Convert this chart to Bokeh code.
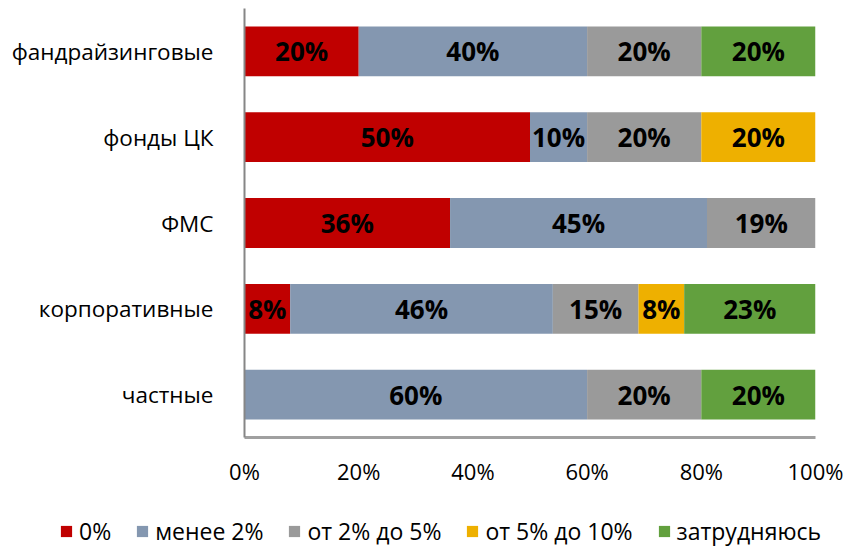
from bokeh.plotting import figure
from bokeh.layouts import column
from bokeh.models import ColumnDataSource, FactorRange, Range1d, FixedTicker, Legend, LegendItem, PrintfTickFormatter
from bokeh.core.properties import value
from bokeh.embed import file_html
from bokeh.resources import INLINE

categories = ["частные", "корпоративные", "ФМС", "фонды ЦК", "фандрайзинговые"]
series_names = ["0%", "менее 2%", "от 2% до 5%", "от 5% до 10%", "затрудняюсь"]
s_zero = [0, 8, 36, 50, 20]
s_lt2 = [60, 46, 45, 10, 40]
s_2_5 = [20, 15, 19, 20, 20]
s_5_10 = [0, 8, 0, 20, 0]
s_hard = [20, 23, 0, 0, 20]
series = [s_zero, s_lt2, s_2_5, s_5_10, s_hard]
colors = ["#C00000", "#8497B0", "#9A9A9A", "#EEB000", "#62A03E"]
x_ticks = [0, 20, 40, 60, 80, 100]

FONT = "Open Sans"

p = figure(y_range=FactorRange(*categories), x_range=Range1d(0, 100),
           width=848, height=500, output_backend="svg", toolbar_location=None,
           min_border_left=244, min_border_right=33, min_border_top=8, min_border_bottom=63)
p.frame_align = False

cum = [0] * len(categories)
lab_x, lab_y, lab_t = [], [], []
for name, vals, col in zip(series_names, series, colors):
    left = list(cum)
    right = [a + b for a, b in zip(cum, vals)]
    src = ColumnDataSource(dict(y=categories, left=left, right=right))
    p.hbar(y="y", left="left", right="right", height=0.58, source=src,
           fill_color=col, line_color=None)
    for c, l, v in zip(categories, left, vals):
        if v > 0:
            lab_x.append(l + v / 2)
            lab_y.append(c)
            lab_t.append(f"{v}%")
    cum = right

lsrc = ColumnDataSource(dict(x=lab_x, y=lab_y, t=lab_t))
p.text(x="x", y="y", text="t", source=lsrc, text_font=value(FONT), text_font_style="bold",
       text_font_size="26px", text_align="center", text_baseline="middle", text_color="black")

p.xaxis.ticker = FixedTicker(ticks=x_ticks)
p.xaxis.formatter = PrintfTickFormatter(format="%d%%")
p.xaxis.major_tick_line_color = None
p.xaxis.minor_tick_line_color = None
p.xaxis.axis_line_color = "#A0A0A0"
p.xaxis.axis_line_width = 3
p.xaxis.major_label_standoff = 12
p.xaxis.major_label_text_font = FONT
p.xaxis.major_label_text_font_size = "22px"
p.xaxis.major_label_text_color = "black"

p.yaxis.major_tick_line_color = None
p.yaxis.minor_tick_line_color = None
p.yaxis.axis_line_color = "#868686"
p.yaxis.axis_line_width = 2
p.yaxis.major_label_standoff = 25
p.yaxis.major_label_text_font = FONT
p.yaxis.major_label_text_font_size = "22.5px"
p.yaxis.major_label_text_color = "black"

p.xgrid.grid_line_color = None
p.ygrid.grid_line_color = None
p.outline_line_color = None

# legend strip
nan = float("nan")
pl = figure(width=848, height=47, x_range=Range1d(0, 1), y_range=Range1d(0, 1),
            output_backend="svg", toolbar_location=None, min_border=0,
            min_border_left=0, min_border_right=0, min_border_top=0, min_border_bottom=0)
pl.frame_align = False
pl.axis.visible = False
pl.xgrid.grid_line_color = None
pl.ygrid.grid_line_color = None
pl.outline_line_color = None
items = []
for name, col in zip(series_names, colors):
    r = pl.quad(left=[nan], right=[nan], top=[nan], bottom=[nan], fill_color=col, line_color=None)
    items.append(LegendItem(label=name, renderers=[r]))
legend = Legend(items=items, orientation="horizontal", location=(59, 0),
                border_line_alpha=0, background_fill_alpha=0,
                label_text_font=FONT, label_text_font_size="23px", label_text_color="black",
                glyph_width=14, glyph_height=14, label_standoff=6, spacing=24,
                padding=0, margin=0, label_height=22)
pl.add_layout(legend)

layout = column(p, pl, spacing=0)
open("out.html", "w").write(file_html(layout, INLINE))
